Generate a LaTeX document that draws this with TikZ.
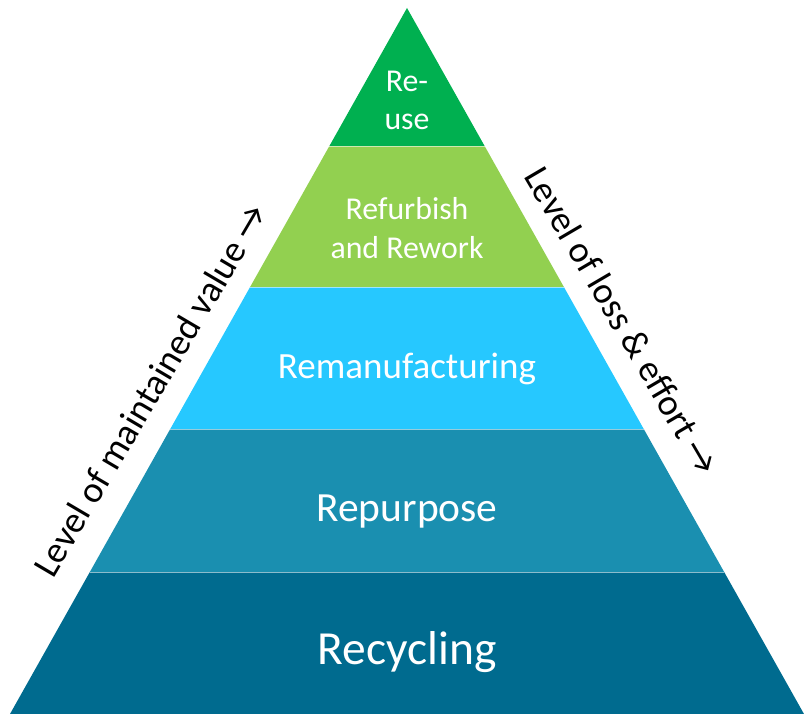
\documentclass[tikz,border=0pt]{standalone}
\usepackage{fontspec}
\setmainfont{Carlito}
\usetikzlibrary{calc}
\definecolor{reuse}{RGB}{0,176,80}
\definecolor{refurbish}{RGB}{146,208,80}
\definecolor{reman}{RGB}{38,200,255}
\definecolor{repurpose}{RGB}{26,143,176}
\definecolor{recycling}{RGB}{0,107,143}
\tikzset{
  separator/.style={draw=white, draw opacity=0.55, line width=0.9pt},
  layertext/.style={text=white, inner sep=0pt, anchor=base, align=center},
  sidelabel/.style={text=black, inner sep=0pt, anchor=base west, font=\fontsize{37}{44}\selectfont}
}
\begin{document}
\begin{tikzpicture}[x=1pt,y=1pt]
\useasboundingbox (0,0) rectangle (804,714);
\coordinate (bl) at (10,0);
\coordinate (br) at (804,0);
\coordinate (apex) at (407,706);

% layers, bottom to top
\foreach \lo/\hi/\col in {0/142/recycling, 142/285/repurpose, 285/427/reman, 427/568/refurbish}
    \fill[\col] ($(bl)!\lo/706!(apex)$) -- ($(br)!\lo/706!(apex)$)
        -- ($(br)!\hi/706!(apex)$) -- ($(bl)!\hi/706!(apex)$) -- cycle;
\fill[reuse] ($(bl)!568/706!(apex)$) -- ($(br)!568/706!(apex)$) -- (apex) -- cycle;

\foreach \h in {142,285,427,568}
    \draw[separator] ($(bl)!\h/706!(apex)$) -- ($(br)!\h/706!(apex)$);

% base anchor = baseline of the last line
\node[layertext, font=\fontsize{47.5}{56}\selectfont] (recycling) at (407,49) {Recycling};
\node[layertext, font=\fontsize{41.5}{48}\selectfont] (repurpose) at (407,192) {Repurpose};
\node[layertext, font=\fontsize{37}{44}\selectfont] (reman) at (407,335) {Remanufacturing};
\node[layertext, font=\fontsize{31.8}{38.3}\selectfont] (refurbish) at (407,455.7) {Refurbish\\and Rework};
\node[layertext, font=\fontsize{31.8}{38.3}\selectfont] (reuse) at (407,584) {Re-\\use};

% side labels along the edges
\node[sidelabel, rotate=59.5] (maintained) at (53,134) {Level of maintained value →};
\node[sidelabel, rotate=-59.6] (loss) at (523,538) {Level of loss \& effort →};
\end{tikzpicture}
\end{document}
